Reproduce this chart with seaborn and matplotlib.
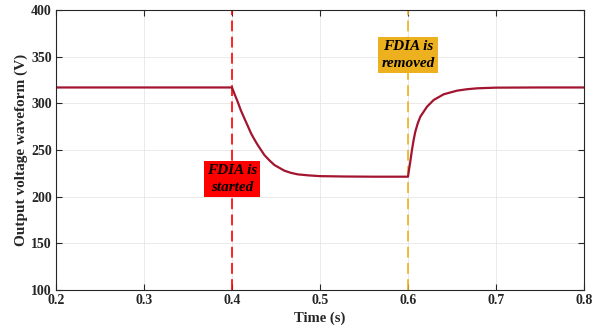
import matplotlib
matplotlib.use("Agg")
import matplotlib.pyplot as plt
import seaborn as sns
import pandas as pd

# Data
time_s = [0.2, 0.3, 0.4, 0.4032, 0.4064, 0.410, 0.414, 0.418, 0.4216, 0.4254, 0.4292,
          0.4368, 0.4425, 0.4482, 0.4596, 0.467, 0.4747, 0.487, 0.5, 0.528, 0.56, 0.6,
          0.6013, 0.6026, 0.6045, 0.6063, 0.6083, 0.611, 0.614, 0.6216, 0.6292, 0.6406,
          0.6558, 0.667, 0.6786, 0.7, 0.75, 0.8]
voltage_v = [317, 317, 317, 309.2, 301.8, 292.6, 284.0, 275.6, 267.9, 261.4, 255.4,
             244.6, 238.9, 233.9, 227.8, 225.5, 223.9, 222.8, 222.0, 221.6, 221.4, 221.4,
             229.8, 237.5, 250.0, 260.3, 269.6, 278.3, 285.7, 296.4, 303.6, 309.7,
             313.6, 315.1, 316.1, 316.8, 317, 317]
event_times = [0.4, 0.6]
event_labels = ["FDIA is\nstarted", "FDIA is\nremoved"]
event_label_y = [219, 352]
event_colors = ["#FF0000", "#EDB120"]

x_ticks = [0.2, 0.3, 0.4, 0.5, 0.6, 0.7, 0.8]
y_ticks = [100, 150, 200, 250, 300, 350, 400]

df = pd.DataFrame({"Time (s)": time_s, "V": voltage_v})

sns.set_theme(style="whitegrid")
plt.rcParams["font.family"] = ["Liberation Serif", "DejaVu Serif"]
plt.rcParams["font.weight"] = "bold"

fig = plt.figure(figsize=(6.03, 3.31), dpi=100)
ax = fig.add_axes([56 / 603, 1 - 290 / 331, (584 - 56) / 603, (290 - 10) / 331])

sns.lineplot(data=df, x="Time (s)", y="V", ax=ax, color="#A2142F", linewidth=1.6)

for t, lab, ly, c in zip(event_times, event_labels, event_label_y, event_colors):
    ax.axvline(t, color=c, linewidth=1.2, dashes=(6.5, 3.2), zorder=1)
    ax.text(t, ly, lab, ha="center", va="center", fontsize=11, fontweight="bold",
            fontstyle="italic", color="black", linespacing=1.35,
            bbox=dict(boxstyle="square,pad=0.22", facecolor=c, edgecolor="none"),
            zorder=5)

ax.set_xlim(0.2, 0.8)
ax.set_ylim(100, 400)
ax.set_xticks(x_ticks)
ax.set_yticks(y_ticks)
ax.set_xticklabels([f"{v:.1f}" for v in x_ticks])
ax.set_yticklabels([str(v) for v in y_ticks])
ax.set_xlabel("Time (s)", fontsize=10.5, fontweight="bold", labelpad=3)
ax.set_ylabel("Output voltage waveform (V)", fontsize=11, fontweight="bold", labelpad=2)

ax.set_facecolor("white")
ax.grid(True, color="#E6E6E6", linewidth=0.6)
for s in ax.spines.values():
    s.set_color("#262626")
    s.set_linewidth(0.8)
    s.set_visible(True)
ax.tick_params(axis="both", which="both", direction="in", length=4, width=0.8,
               color="#262626", top=True, right=True, bottom=True, left=True,
               labelsize=10, pad=3)
for lbl in ax.get_xticklabels() + ax.get_yticklabels():
    lbl.set_fontweight("bold")

fig.savefig("out.png", dpi=100, facecolor="white")
